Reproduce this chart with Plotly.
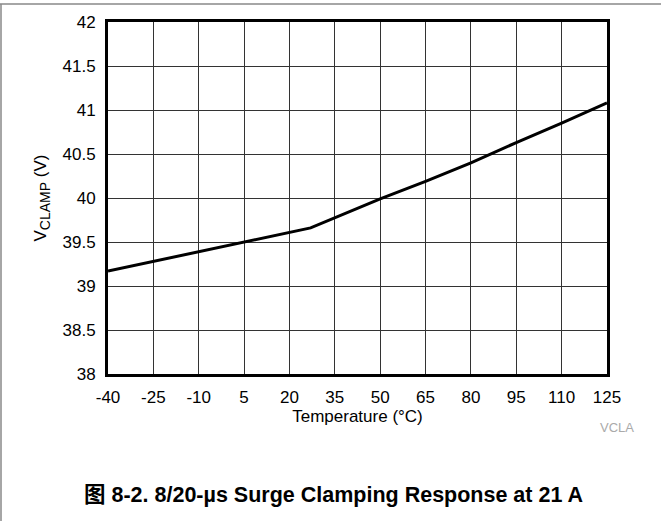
import plotly.graph_objects as go

# Data
temperature_c = [-40, 5, 27, 50, 65, 80, 95, 110, 125]
v_clamp = [39.17, 39.50, 39.66, 39.99, 40.19, 40.40, 40.63, 40.85, 41.08]

x_ticks = [-40, -25, -10, 5, 20, 35, 50, 65, 80, 95, 110, 125]
y_ticks = [38, 38.5, 39, 39.5, 40, 40.5, 41, 41.5, 42]
y_tick_text = ["38", "38.5", "39", "39.5", "40", "40.5", "41", "41.5", "42"]

FONT = "Liberation Sans, Arial, Noto Sans CJK SC, sans-serif"

L, R, T, B = 108, 607, 22, 374
W, H = 663, 521
PW, PH = R - L, B - T


def px(x):
    return (x - L) / PW


def py(y):
    return (B - y) / PH


fig = go.Figure()
fig.add_trace(go.Scatter(
    x=temperature_c, y=v_clamp, mode="lines",
    line=dict(color="black", width=3), showlegend=False, hoverinfo="skip"))

fig.update_layout(
    width=W, height=H,
    margin=dict(l=L, r=W - R, t=T, b=H - B),
    paper_bgcolor="white", plot_bgcolor="white",
    font=dict(family=FONT, size=17, color="black"),
    xaxis=dict(
        range=[-40, 125], tickvals=x_ticks, ticktext=[str(v) for v in x_ticks],
        showgrid=True, gridcolor="#333", gridwidth=1,
        showline=True, linecolor="black", linewidth=3, mirror=True,
        ticks="outside", ticklen=6, tickcolor="rgba(0,0,0,0)",
        zeroline=False,
        title=dict(text="Temperature (°C)", font=dict(size=17), standoff=2),
    ),
    yaxis=dict(
        range=[38, 42], tickvals=y_ticks, ticktext=y_tick_text,
        showgrid=True, gridcolor="#333", gridwidth=1,
        showline=True, linecolor="black", linewidth=3, mirror=True,
        ticks="outside", ticklen=6, tickcolor="rgba(0,0,0,0)",
        zeroline=False,
        title=dict(text="V<sub><span style=\"font-size:14px\">CLAMP</span></sub> (V)",
                   font=dict(size=17), standoff=12),
    ),
    shapes=[
        dict(type="line", xref="paper", yref="paper",
             x0=px(0), x1=px(661), y0=py(4), y1=py(4),
             line=dict(color="#888", width=1.5)),
        dict(type="line", xref="paper", yref="paper",
             x0=px(1), x1=px(1), y0=py(4), y1=py(521),
             line=dict(color="#888", width=1.5)),
    ],
    annotations=[
        dict(text="VCLA", xref="paper", yref="paper",
             x=px(617), y=py(427), xanchor="center", yanchor="middle",
             showarrow=False, font=dict(size=13, color="#aaaaaa")),
        dict(text="<b>图 8-2. 8/20-µs Surge Clamping Response at 21 A</b>",
             xref="paper", yref="paper",
             x=px(333), y=py(495), xanchor="center", yanchor="middle",
             showarrow=False, font=dict(size=21.5, color="black")),
    ],
)

fig.write_html("out.html", config={"displayModeBar": False},
               post_script="document.body.style.margin='0px';")
